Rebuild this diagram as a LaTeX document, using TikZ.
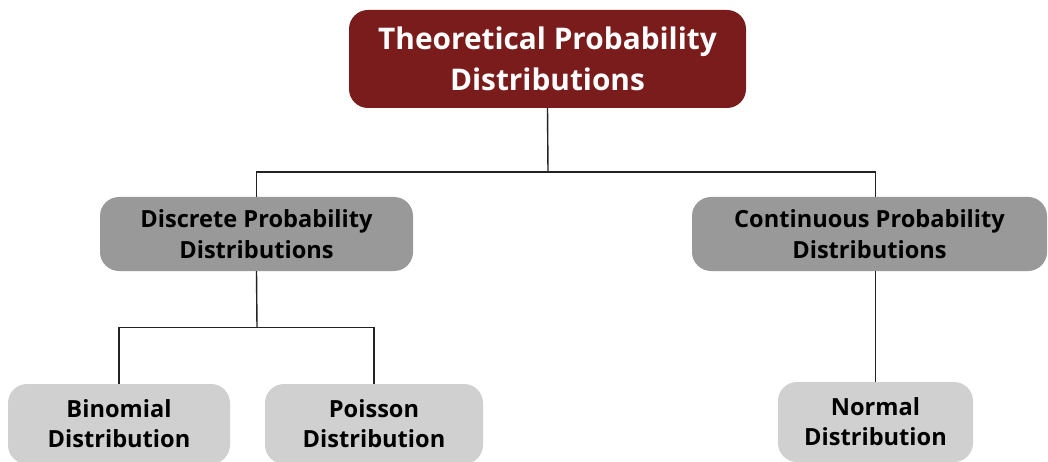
\documentclass[tikz,border=0pt]{standalone}
\usepackage{fontspec}
\setmainfont{Open Sans}
\usetikzlibrary{positioning,calc}
\definecolor{maroon}{RGB}{123,28,28}
\definecolor{midgray}{RGB}{153,153,153}
\definecolor{lightgray}{RGB}{208,208,208}
\definecolor{ink}{RGB}{35,35,35}
\tikzset{
  every picture/.style={x=1pt, y=1pt},
  box/.style={rounded corners=19pt, inner sep=0pt, align=center, font=\bfseries},
  rootbox/.style={box, fill=maroon, text=white, minimum width=397pt, minimum height=98pt,
    font=\fontsize{29.8}{41}\selectfont\bfseries},
  kindbox/.style={box, fill=midgray, text=black, minimum height=74pt,
    font=\fontsize{23.6}{31}\selectfont\bfseries},
  leafbox/.style={box, fill=lightgray, text=black, minimum height=80pt,
    font=\fontsize{23.6}{30}\selectfont\bfseries},
  link/.style={draw=ink, line width=1.4pt},
}
\begin{document}
\begin{tikzpicture}
  \useasboundingbox (0,0) rectangle (1048,-462);
  \clip (0,0) rectangle (1048,-462);
  % top level
  \node[rootbox] (theory) at (547.5,-59) {Theoretical Probability\\Distributions};
  % second level
  \node[kindbox, minimum width=313pt] (discrete) at (256.5,-234) {Discrete Probability\\Distributions};
  \node[kindbox, minimum width=355pt] (continuous) at (869.5,-234) {Continuous Probability\\Distributions};
  % leaves
  \node[leafbox, minimum width=222pt] (binomial) at (119,-424) {Binomial\\Distribution};
  \node[leafbox, minimum width=218pt] (poisson) at (374,-424) {Poisson\\Distribution};
  \node[leafbox, minimum width=195pt] (normal) at (875.5,-422) {Normal\\Distribution};
  % connectors
  \coordinate (split) at (548,-172);
  \coordinate (leftsplit) at (257,-327.5);
  \draw[link] (theory.south) -- (split);
  \draw[link] (split) -| (discrete.north);
  \draw[link] (split) -| (normal.north |- continuous.north);
  \draw[link] (discrete.south) -- (leftsplit);
  \draw[link] (leftsplit) -| (binomial.north);
  \draw[link] (leftsplit) -| (poisson.north);
  \draw[link] (normal.north |- continuous.south) -- (normal.north);
\end{tikzpicture}
\end{document}
